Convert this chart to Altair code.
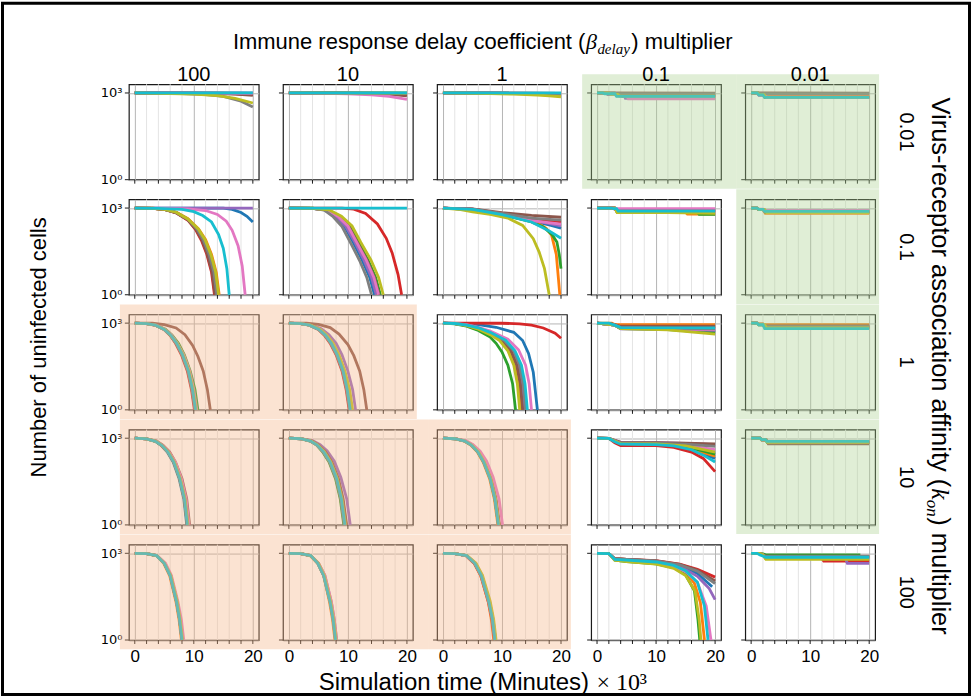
import altair as alt
import pandas as pd

# ---------------- data ----------------
BETA_LABELS = ["100", "10", "1", "0.1", "0.01"]        # columns: immune response delay multiplier
KON_LABELS = ["0.01", "0.1", "1", "10", "100"]          # rows: virus-receptor affinity multiplier
SIM_IDS = ["s0", "s1", "s2", "s3", "s4", "s5", "s6", "s7", "s8", "s9"]
SIM_COLORS = ["#1f77b4", "#ff7f0e", "#2ca02c", "#d62728", "#9467bd",
              "#8c564b", "#e377c2", "#7f7f7f", "#bcbd22", "#17becf"]
X_MAJOR = [0, 10, 20]
X_MINOR = [2, 4, 6, 8, 12, 14, 16, 18]
X_TICKS = [0, 2, 4, 6, 8, 10, 12, 14, 16, 18, 20]
Y_MAJOR = [1, 1000]
SHADE = [
    ["", "", "", "g", "g"],
    ["", "", "", "", "g"],
    ["o", "o", "", "", "g"],
    ["o", "o", "o", "", "g"],
    ["o", "o", "o", "", ""],
]
TITLE_TOP = ["Immune response delay coefficient (", "β", "delay", ") multiplier"]
TITLE_RIGHT = ["Virus-receptor association affinity (", "k", "on", ") multiplier"]
TITLE_LEFT = "Number of uninfected cells"
TITLE_BOTTOM = ["Simulation time (Minutes)", "× 10³"]

# curves: CURVES[(row, col)] -> 10 series (tab10 order), each a list of [time (x1000 min), uninfected cells]
CURVES = {
    (0, 0): [
        [[0, 1000], [20, 985]],
        [[0, 1000], [14, 985], [20, 920]],
        [[0, 1000], [20, 965]],
        [[0, 1000], [16, 960], [20, 880]],
        [[0, 1000], [20, 995]],
        [[0, 1000], [12, 965], [17, 910], [20, 830]],
        [[0, 1000], [20, 975]],
        [[0, 1000], [8, 950], [12, 880], [15, 760], [18, 520], [20, 330]],
        [[0, 1000], [6, 950], [10, 905], [14, 810], [17, 650], [20, 450]],
        [[0, 1000], [20, 1000]],
    ],
    (0, 1): [
        [[0, 1000], [20, 990]],
        [[0, 1000], [20, 975]],
        [[0, 1000], [20, 985]],
        [[0, 1000], [15, 965], [20, 880]],
        [[0, 1000], [20, 960]],
        [[0, 1000], [13, 970], [17, 900], [20, 800]],
        [[0, 1000], [6, 965], [10, 930], [14, 860], [17, 760], [20, 600]],
        [[0, 1000], [20, 970]],
        [[0, 1000], [20, 980]],
        [[0, 1000], [20, 1000]],
    ],
    (0, 2): [
        [[0, 1000], [20, 985]],
        [[0, 1000], [20, 975]],
        [[0, 1000], [20, 980]],
        [[0, 1000], [20, 960]],
        [[0, 1000], [10, 965], [20, 920]],
        [[0, 1000], [20, 950]],
        [[0, 1000], [20, 970]],
        [[0, 1000], [15, 950], [20, 900]],
        [[0, 1000], [8, 960], [12, 910], [16, 850], [18, 800], [20, 740]],
        [[0, 1000], [20, 1000]],
    ],
    (0, 3): [
        [[0, 1000], [1, 1000], [1.3, 950], [3, 950], [3.3, 850], [20, 850]],
        [[0, 1000], [1.5, 1000], [1.8, 900], [3, 900], [3.3, 800], [20, 800]],
        [[0, 1000], [1, 1000], [1.3, 950], [3, 950], [3.3, 820], [20, 820]],
        [[0, 1000], [2, 1000], [2.3, 880], [4, 880], [4.3, 760], [20, 760]],
        [[0, 1000], [1.5, 1000], [1.8, 900], [4.5, 900], [4.8, 650], [20, 650]],
        [[0, 1000], [20, 985]],
        [[0, 1000], [2, 1000], [2.3, 880], [5, 880], [5.3, 620], [20, 620]],
        [[0, 1000], [3, 1000], [3.3, 950], [20, 950]],
        [[0, 1000], [2, 1000], [2.3, 900], [3.5, 900], [3.8, 780], [20, 780]],
        [[0, 1000], [1, 1000], [1.3, 940], [3, 940], [3.3, 760], [20, 760]],
    ],
    (0, 4): [
        [[0, 1000], [1, 1000], [1.3, 850], [2, 850], [2.3, 720], [20, 720]],
        [[0, 1000], [1, 1000], [1.3, 880], [2.2, 880], [2.5, 740], [20, 740]],
        [[0, 1000], [1.2, 1000], [1.5, 860], [2, 860], [2.3, 700], [20, 700]],
        [[0, 1000], [1, 1000], [1.3, 870], [2.4, 870], [2.7, 730], [20, 730]],
        [[0, 1000], [1, 1000], [1.3, 850], [2.5, 850], [2.8, 690], [20, 690]],
        [[0, 1000], [20, 995]],
        [[0, 1000], [1, 1000], [1.3, 860], [2.3, 860], [2.6, 710], [20, 710]],
        [[0, 1000], [1, 1000], [1.3, 950], [20, 950]],
        [[0, 1000], [1.1, 1000], [1.4, 870], [2.2, 870], [2.5, 720], [20, 720]],
        [[0, 1000], [1, 1000], [1.3, 860], [2, 860], [2.3, 700], [20, 700]],
    ],
    (1, 0): [
        [[0, 1000], [15, 1000], [16.5, 900], [18, 700], [19, 520], [20, 330]],
        [[0, 1000], [3, 985], [5, 910], [7, 720], [9, 430], [10.8, 190], [12, 80], [13, 25], [13.8, 6], [14.3, 1]],
        [[0, 1000], [3, 980], [5, 900], [7, 700], [9, 400], [10.5, 180], [11.5, 80], [12.5, 25], [13.3, 6], [13.8, 1]],
        [[0, 1000], [3, 975], [5, 890], [7, 680], [9, 380], [10.3, 180], [11.3, 75], [12.2, 25], [13, 6], [13.5, 1]],
        [[0, 1000], [20, 1000]],
        [[0, 1000], [3, 980], [5, 895], [7, 690], [9, 390], [10.4, 180], [11.4, 78], [12.3, 25], [13.1, 6], [13.6, 1]],
        [[0, 1000], [5, 980], [9, 930], [12, 820], [14, 600], [15.5, 350], [16.5, 170], [17.5, 50], [18.2, 10], [18.7, 1]],
        [[0, 1000], [3, 980], [5, 900], [7, 705], [9, 410], [10.6, 180], [11.6, 80], [12.6, 25], [13.4, 6], [13.9, 1]],
        [[0, 1000], [3, 985], [5, 905], [7, 715], [9, 420], [10.8, 185], [11.9, 80], [12.9, 25], [13.7, 6], [14.2, 1]],
        [[0, 1000], [4, 980], [8, 900], [10, 750], [11.5, 550], [13, 330], [14.2, 120], [15, 40], [15.6, 8], [16, 1]],
    ],
    (1, 1): [
        [[0, 1000], [4, 975], [6, 870], [7.8, 520], [9.4, 240], [10.9, 65], [12.4, 16], [13.7, 4], [14.5, 1]],
        [[0, 1000], [4, 980], [6.3, 870], [8.1, 520], [9.8, 240], [11.3, 65], [12.9, 16], [14.2, 4], [15, 1]],
        [[0, 1000], [4, 985], [6.6, 870], [8.6, 520], [10.3, 240], [11.8, 65], [13.4, 16], [14.7, 4], [15.5, 1]],
        [[0, 1000], [9, 1000], [11, 920], [13, 650], [15, 280], [16.5, 90], [17.5, 28], [18.5, 5], [19.1, 1]],
        [[0, 1000], [4, 978], [6.2, 870], [8, 520], [9.6, 240], [11.2, 65], [12.7, 16], [14, 4], [14.8, 1]],
        [[0, 1000], [4, 982], [6.5, 870], [8.4, 520], [10.1, 240], [11.6, 65], [13.2, 16], [14.5, 4], [15.3, 1]],
        [[0, 1000], [4, 980], [6.4, 870], [8.3, 520], [10, 240], [11.5, 65], [13.1, 16], [14.4, 4], [15.2, 1]],
        [[0, 1000], [4, 970], [6, 850], [7.5, 500], [9, 230], [10.5, 60], [12, 15], [13.2, 4], [14, 1]],
        [[0, 1000], [4, 985], [6.8, 870], [8.9, 520], [10.7, 240], [12.2, 65], [13.9, 16], [15.2, 4], [16, 1]],
        [[0, 1000], [20, 1000]],
    ],
    (1, 2): [
        [[0, 1000], [5, 900], [10, 600], [15, 350], [18, 260], [20, 200]],
        [[0, 1000], [5, 900], [10, 600], [14, 400], [16, 300], [17.5, 200], [18.4, 115], [19.2, 25], [19.8, 1]],
        [[0, 1000], [5, 900], [10, 600], [15, 330], [17, 220], [18.5, 120], [19.3, 67], [19.7, 25], [20, 8]],
        [[0, 1000], [5, 920], [10, 640], [15, 420], [20, 330]],
        [[0, 1000], [5, 910], [10, 620], [15, 380], [20, 240]],
        [[0, 1000], [5, 930], [10, 700], [15, 560], [20, 480]],
        [[0, 1000], [5, 900], [10, 610], [15, 370], [20, 280]],
        [[0, 1000], [5, 920], [10, 650], [15, 450], [20, 380]],
        [[0, 1000], [3, 880], [5, 740], [8, 600], [11, 450], [13.5, 250], [15.3, 87], [16.3, 30], [17.2, 8], [18, 1]],
        [[0, 1000], [5, 900], [10, 590], [15, 330], [18, 160], [20, 90]],
    ],
    (1, 3): [
        [[0, 1000], [3, 1000], [3.3, 900], [3.8, 900], [4.1, 800], [20, 800]],
        [[0, 1000], [3, 1000], [3.4, 720], [15, 720], [15.3, 620], [20, 620]],
        [[0, 1000], [3, 1000], [3.4, 720], [17, 720], [17.3, 600], [20, 600]],
        [[0, 1000], [3, 1000], [3.4, 760], [20, 750]],
        [[0, 1000], [2.6, 1000], [3, 900], [20, 900]],
        [[0, 1000], [3, 1000], [3.4, 850], [20, 850]],
        [[0, 1000], [3, 1000], [3.4, 950], [20, 950]],
        [[0, 1000], [3, 1000], [3.4, 800], [20, 790]],
        [[0, 1000], [3, 1000], [3.4, 700], [12, 690], [20, 650]],
        [[0, 1000], [2.5, 1000], [2.8, 950], [3.3, 950], [3.6, 780], [20, 780]],
    ],
    (1, 4): [
        [[0, 1000], [1, 1000], [1.3, 900], [2, 900], [2.3, 780], [20, 780]],
        [[0, 1000], [1, 1000], [1.3, 880], [2, 880], [2.4, 650], [20, 650]],
        [[0, 1000], [1, 1000], [1.3, 880], [2.2, 880], [2.5, 700], [20, 700]],
        [[0, 1000], [1, 1000], [1.3, 880], [2.2, 880], [2.5, 720], [20, 720]],
        [[0, 1000], [1, 1000], [1.3, 900], [2, 900], [2.3, 800], [20, 800]],
        [[0, 1000], [1, 1000], [1.3, 900], [2.1, 900], [2.4, 760], [20, 760]],
        [[0, 1000], [1, 1000], [1.3, 920], [2, 920], [2.3, 820], [20, 820]],
        [[0, 1000], [1, 1000], [1.3, 890], [2, 890], [2.3, 740], [20, 740]],
        [[0, 1000], [1, 1000], [1.3, 880], [2.3, 880], [2.6, 700], [20, 700]],
        [[0, 1000], [1, 1000], [1.3, 900], [2, 900], [2.3, 770], [20, 770]],
    ],
    (2, 0): [
        [[0, 1000], [2, 960], [3.5, 850], [5, 600], [6, 380], [7, 200], [8, 80], [9, 22], [9.7, 5], [10.2, 1]],
        [[0, 1000], [2, 960], [3.5, 850], [5, 610], [6.1, 380], [7.1, 200], [8.1, 80], [9.1, 22], [9.8, 5], [10.3, 1]],
        [[0, 1000], [2, 965], [3.6, 860], [5.2, 620], [6.3, 390], [7.4, 200], [8.4, 80], [9.4, 22], [10.2, 5], [10.7, 1]],
        [[0, 1000], [2, 958], [3.5, 845], [5, 595], [6, 375], [6.9, 200], [7.9, 80], [8.9, 22], [9.6, 5], [10.1, 1]],
        [[0, 1000], [2, 962], [3.5, 852], [5.1, 610], [6.2, 385], [7.2, 200], [8.2, 80], [9.2, 22], [9.9, 5], [10.4, 1]],
        [[0, 1000], [3, 990], [5, 890], [7, 680], [8.5, 400], [9.8, 170], [10.7, 70], [11.6, 22], [12.3, 5], [12.8, 1]],
        [[0, 1000], [2, 963], [3.6, 855], [5.1, 612], [6.2, 385], [7.2, 200], [8.3, 80], [9.3, 22], [10, 5], [10.5, 1]],
        [[0, 1000], [2, 958], [3.5, 848], [5, 602], [6, 382], [7, 200], [8, 80], [9, 22], [9.7, 5], [10.2, 1]],
        [[0, 1000], [2, 961], [3.5, 850], [5.1, 605], [6.1, 380], [7.2, 200], [8.2, 80], [9.2, 22], [9.9, 5], [10.4, 1]],
        [[0, 1000], [2, 960], [3.5, 848], [5, 600], [6.1, 380], [7.1, 200], [8.1, 80], [9.1, 22], [9.8, 5], [10.3, 1]],
    ],
    (2, 1): [
        [[0, 1000], [2, 960], [3.5, 850], [5, 610], [6.1, 380], [7.1, 200], [8.1, 80], [9.1, 22], [9.8, 5], [10.3, 1]],
        [[0, 1000], [2, 963], [3.6, 855], [5.1, 612], [6.2, 385], [7.2, 200], [8.3, 80], [9.3, 22], [10, 5], [10.5, 1]],
        [[0, 1000], [2, 961], [3.5, 850], [5.1, 605], [6.1, 380], [7.2, 200], [8.2, 80], [9.2, 22], [9.9, 5], [10.4, 1]],
        [[0, 1000], [2, 958], [3.5, 848], [5, 602], [6, 382], [7, 200], [8, 80], [9, 22], [9.7, 5], [10.2, 1]],
        [[0, 1000], [2, 970], [3.8, 870], [5.5, 640], [6.8, 400], [8, 200], [9, 80], [10, 22], [10.8, 5], [11.3, 1]],
        [[0, 1000], [3, 990], [5, 900], [7, 700], [8.5, 420], [10, 180], [11, 75], [12, 22], [12.7, 5], [13.2, 1]],
        [[0, 1000], [2, 964], [3.6, 858], [5.2, 615], [6.3, 388], [7.3, 200], [8.4, 80], [9.4, 22], [10.1, 5], [10.6, 1]],
        [[0, 1000], [2, 959], [3.5, 849], [5, 606], [6.1, 381], [7.1, 200], [8.1, 80], [9.1, 22], [9.8, 5], [10.3, 1]],
        [[0, 1000], [2, 966], [3.7, 860], [5.3, 620], [6.4, 390], [7.5, 200], [8.5, 80], [9.5, 22], [10.3, 5], [10.8, 1]],
        [[0, 1000], [2, 960], [3.5, 850], [5.1, 606], [6.2, 382], [7.2, 200], [8.2, 80], [9.2, 22], [9.9, 5], [10.4, 1]],
    ],
    (2, 2): [
        [[0, 1000], [3, 960], [6, 880], [9, 720], [12, 480], [13.5, 250], [14.5, 90], [15.3, 20], [16, 1]],
        [[0, 1000], [2, 962], [4, 830], [6, 640], [8, 420], [9.8, 250], [11.3, 110], [12.3, 35], [12.9, 8], [13.3, 1]],
        [[0, 1000], [2, 950], [4, 780], [6, 560], [8, 330], [9, 200], [10, 100], [11, 35], [11.8, 8], [12.3, 1]],
        [[0, 1000], [10, 990], [13, 950], [15, 850], [17, 680], [19, 450], [20, 300]],
        [[0, 1000], [2, 968], [4, 850], [6, 670], [8, 450], [10.2, 250], [11.8, 110], [12.8, 35], [13.4, 8], [13.8, 1]],
        [[0, 1000], [2, 965], [4, 840], [6, 650], [8, 430], [10, 250], [11.5, 110], [12.5, 35], [13.1, 8], [13.5, 1]],
        [[0, 1000], [2, 975], [4, 880], [6, 720], [8, 530], [11, 280], [12.8, 120], [14, 35], [14.6, 8], [15, 1]],
        [[0, 1000], [2, 970], [4, 860], [6, 680], [8, 460], [10.4, 250], [12, 110], [13, 35], [13.6, 8], [14, 1]],
        [[0, 1000], [2, 960], [4, 820], [6, 620], [8, 400], [9.6, 250], [11, 110], [12, 35], [12.6, 8], [13, 1]],
        [[0, 1000], [2, 970], [4, 860], [6, 690], [8, 480], [10.6, 260], [12.2, 110], [13.3, 35], [13.9, 8], [14.3, 1]],
    ],
    (2, 3): [
        [[0, 1000], [3, 850], [4, 660], [12, 640], [20, 520]],
        [[0, 1000], [2.5, 1000], [3, 900], [20, 880]],
        [[0, 1000], [3, 850], [4, 650], [12, 600], [20, 470]],
        [[0, 1000], [3, 880], [4, 760], [20, 740]],
        [[0, 1000], [3, 850], [4, 640], [12, 620], [20, 560]],
        [[0, 1000], [2.5, 950], [3.5, 800], [20, 780]],
        [[0, 1000], [3, 850], [4, 680], [20, 600]],
        [[0, 1000], [3, 850], [4, 700], [20, 640]],
        [[0, 1000], [3, 850], [4, 640], [12, 580], [20, 420]],
        [[0, 1000], [2, 1000], [3, 850], [4, 700], [20, 690]],
    ],
    (2, 4): [
        [[0, 1000], [1, 1000], [1.3, 900], [2, 900], [2.3, 720], [20, 720]],
        [[0, 1000], [1, 1000], [1.3, 950], [2, 950], [2.3, 880], [20, 880]],
        [[0, 1000], [1, 1000], [1.3, 880], [2.2, 880], [2.5, 700], [20, 700]],
        [[0, 1000], [1, 1000], [1.3, 900], [2, 900], [2.3, 750], [20, 750]],
        [[0, 1000], [1, 1000], [1.3, 880], [2.1, 880], [2.4, 690], [20, 690]],
        [[0, 1000], [1, 1000], [1.3, 920], [2, 920], [2.3, 800], [20, 800]],
        [[0, 1000], [1, 1000], [1.3, 900], [2.2, 900], [2.5, 710], [20, 710]],
        [[0, 1000], [1, 1000], [1.3, 900], [2, 900], [2.3, 760], [20, 760]],
        [[0, 1000], [1, 1000], [1.3, 880], [2.3, 880], [2.6, 680], [20, 680]],
        [[0, 1000], [1, 1000], [1.3, 880], [2, 880], [2.3, 650], [20, 650]],
    ],
    (3, 0): [
        [[0, 1000], [2, 950], [3.5, 780], [4.5, 560], [5.5, 330], [6.5, 150], [7.5, 40], [8.3, 8], [8.8, 1]],
        [[0, 1000], [2, 952], [3.6, 780], [4.6, 560], [5.7, 330], [6.7, 150], [7.7, 40], [8.5, 8], [9, 1]],
        [[0, 1000], [2, 951], [3.5, 782], [4.6, 560], [5.6, 330], [6.6, 150], [7.6, 40], [8.4, 8], [8.9, 1]],
        [[0, 1000], [2, 950], [3.6, 781], [4.5, 562], [5.6, 332], [6.6, 150], [7.6, 40], [8.4, 8], [8.9, 1]],
        [[0, 1000], [2, 953], [3.6, 785], [4.7, 562], [5.8, 332], [6.8, 150], [7.8, 40], [8.6, 8], [9.1, 1]],
        [[0, 1000], [2, 955], [3.7, 790], [4.8, 565], [5.9, 335], [6.9, 150], [8, 40], [8.8, 8], [9.3, 1]],
        [[0, 1000], [2, 954], [3.7, 788], [4.7, 565], [5.8, 335], [6.9, 150], [7.9, 40], [8.7, 8], [9.2, 1]],
        [[0, 1000], [2, 952], [3.6, 784], [4.6, 561], [5.7, 331], [6.7, 150], [7.7, 40], [8.5, 8], [9, 1]],
        [[0, 1000], [2, 953], [3.6, 783], [4.6, 563], [5.7, 333], [6.7, 150], [7.7, 40], [8.5, 8], [9, 1]],
        [[0, 1000], [2, 951], [3.5, 781], [4.6, 561], [5.6, 331], [6.6, 150], [7.6, 40], [8.4, 8], [8.9, 1]],
    ],
    (3, 1): [
        [[0, 1000], [2, 959], [3.7, 798], [4.8, 578], [5.8, 340], [6.9, 150], [8, 40], [8.8, 8], [9.4, 1]],
        [[0, 1000], [2, 960], [3.7, 800], [4.8, 580], [5.9, 340], [7, 150], [8.1, 40], [8.9, 8], [9.5, 1]],
        [[0, 1000], [2, 958], [3.6, 796], [4.7, 576], [5.7, 338], [6.8, 150], [7.9, 40], [8.7, 8], [9.3, 1]],
        [[0, 1000], [2, 961], [3.8, 802], [4.9, 582], [6, 342], [7.1, 150], [8.2, 40], [9, 8], [9.6, 1]],
        [[0, 1000], [2, 975], [4, 830], [5.3, 600], [6.5, 360], [7.7, 160], [8.8, 45], [9.8, 8], [10.4, 1]],
        [[0, 1000], [2, 963], [3.9, 806], [5, 586], [6.2, 345], [7.3, 150], [8.4, 40], [9.2, 8], [9.8, 1]],
        [[0, 1000], [2, 960], [3.7, 801], [4.8, 581], [5.9, 341], [7, 151], [8.1, 41], [8.9, 8], [9.5, 1]],
        [[0, 1000], [2, 959], [3.7, 799], [4.8, 579], [5.8, 339], [6.9, 149], [8, 40], [8.8, 8], [9.4, 1]],
        [[0, 1000], [2, 961], [3.8, 803], [4.9, 583], [6, 343], [7.1, 151], [8.2, 41], [9, 8], [9.6, 1]],
        [[0, 1000], [2, 960], [3.7, 800], [4.8, 580], [5.9, 340], [7, 150], [8.1, 40], [8.9, 8], [9.5, 1]],
    ],
    (3, 2): [
        [[0, 1000], [2, 960], [3.7, 800], [4.8, 580], [5.9, 340], [6.9, 150], [8, 40], [8.8, 8], [9.4, 1]],
        [[0, 1000], [2, 958], [3.6, 797], [4.7, 577], [5.8, 338], [6.8, 150], [7.9, 40], [8.7, 8], [9.3, 1]],
        [[0, 1000], [2, 960], [3.7, 801], [4.8, 581], [5.9, 341], [6.9, 151], [8, 41], [8.8, 8], [9.4, 1]],
        [[0, 1000], [2, 961], [3.7, 803], [4.9, 583], [6, 343], [7, 151], [8.1, 41], [8.9, 8], [9.5, 1]],
        [[0, 1000], [2, 962], [3.8, 804], [4.9, 584], [6, 344], [7.1, 152], [8.1, 41], [8.9, 8], [9.5, 1]],
        [[0, 1000], [2, 963], [3.8, 806], [5, 586], [6.1, 346], [7.2, 152], [8.2, 42], [9, 8], [9.6, 1]],
        [[0, 1000], [2, 970], [3.9, 820], [5.1, 600], [6.3, 360], [7.4, 160], [8.5, 45], [9.5, 8], [10.1, 1]],
        [[0, 1000], [2, 959], [3.7, 799], [4.8, 579], [5.9, 339], [6.9, 149], [8, 40], [8.8, 8], [9.4, 1]],
        [[0, 1000], [2, 961], [3.7, 802], [4.9, 582], [6, 342], [7, 150], [8.1, 40], [8.9, 8], [9.5, 1]],
        [[0, 1000], [2, 960], [3.7, 800], [4.8, 580], [5.9, 340], [6.9, 150], [8, 40], [8.8, 8], [9.4, 1]],
    ],
    (3, 3): [
        [[0, 1000], [2, 980], [3, 800], [4, 600], [10, 600], [15, 470], [20, 200]],
        [[0, 1000], [2, 980], [3, 800], [4, 620], [10, 610], [15, 500], [20, 240]],
        [[0, 1000], [2, 980], [3, 800], [4, 620], [10, 610], [15, 520], [20, 280]],
        [[0, 1000], [2, 980], [3, 700], [4, 560], [10, 550], [13, 480], [16, 330], [18, 200], [20, 70]],
        [[0, 1000], [2, 980], [3, 850], [4, 720], [10, 700], [15, 660], [20, 600]],
        [[0, 1000], [2, 980], [3, 850], [4, 720], [10, 700], [15, 680], [20, 640]],
        [[0, 1000], [2, 980], [3, 820], [4, 650], [10, 640], [15, 560], [20, 400]],
        [[0, 1000], [2, 980], [3, 820], [4, 680], [10, 670], [15, 620], [20, 520]],
        [[0, 1000], [2, 980], [3, 800], [4, 650], [10, 630], [15, 540], [20, 330]],
        [[0, 1000], [2, 980], [3, 750], [4, 620], [10, 600], [13, 540], [16, 400], [18, 260], [20, 150]],
    ],
    (3, 4): [
        [[0, 1000], [1.5, 1000], [1.8, 880], [2.5, 880], [2.8, 740], [20, 740]],
        [[0, 1000], [1.5, 1000], [1.8, 900], [2.5, 900], [2.8, 760], [20, 760]],
        [[0, 1000], [1.5, 1000], [1.8, 880], [2.4, 880], [2.7, 720], [20, 720]],
        [[0, 1000], [1.5, 1000], [1.8, 880], [2.6, 880], [2.9, 700], [20, 700]],
        [[0, 1000], [1.5, 1000], [1.8, 890], [2.5, 890], [2.8, 730], [20, 730]],
        [[0, 1000], [1.5, 1000], [1.8, 860], [2.6, 860], [2.9, 640], [20, 640]],
        [[0, 1000], [1.5, 1000], [1.8, 880], [2.5, 880], [2.8, 750], [20, 750]],
        [[0, 1000], [1.5, 1000], [1.8, 900], [2.5, 900], [2.8, 770], [20, 770]],
        [[0, 1000], [1.5, 1000], [1.8, 880], [2.5, 880], [2.8, 720], [20, 720]],
        [[0, 1000], [1.5, 1000], [1.8, 900], [2.4, 900], [2.7, 780], [20, 780]],
    ],
    (4, 0): [
        [[0, 1000], [2, 980], [3.7, 830], [5, 450], [6, 170], [7.1, 20], [7.6, 5], [8, 1]],
        [[0, 1000], [2, 979], [3.7, 828], [4.9, 450], [5.9, 170], [7, 20], [7.5, 5], [7.9, 1]],
        [[0, 1000], [2, 980], [3.7, 831], [5, 452], [6, 171], [7.1, 20], [7.6, 5], [8, 1]],
        [[0, 1000], [2, 981], [3.7, 832], [5, 455], [6.1, 172], [7.2, 21], [7.7, 5], [8.1, 1]],
        [[0, 1000], [2, 980], [3.7, 829], [5, 451], [6, 170], [7.1, 20], [7.6, 5], [8, 1]],
        [[0, 1000], [2, 981], [3.7, 833], [5, 456], [6.1, 173], [7.2, 21], [7.7, 5], [8.1, 1]],
        [[0, 1000], [2, 982], [3.8, 840], [5.2, 460], [6.2, 175], [7.3, 22], [7.9, 5], [8.3, 1]],
        [[0, 1000], [2, 980], [3.7, 830], [5, 451], [6, 171], [7.1, 20], [7.6, 5], [8, 1]],
        [[0, 1000], [2, 981], [3.7, 832], [5, 454], [6.1, 172], [7.2, 21], [7.7, 5], [8.1, 1]],
        [[0, 1000], [2, 980], [3.7, 830], [5, 450], [6, 170], [7.1, 20], [7.6, 5], [8, 1]],
    ],
    (4, 1): [
        [[0, 1000], [2, 980], [3.7, 828], [4.9, 448], [5.9, 168], [7, 20], [7.5, 5], [7.9, 1]],
        [[0, 1000], [2, 979], [3.6, 826], [4.9, 446], [5.9, 167], [6.9, 20], [7.4, 5], [7.8, 1]],
        [[0, 1000], [2, 980], [3.7, 829], [5, 450], [6, 170], [7.1, 20], [7.6, 5], [8, 1]],
        [[0, 1000], [2, 980], [3.7, 830], [5, 451], [6, 171], [7.1, 20], [7.6, 5], [8, 1]],
        [[0, 1000], [2, 981], [3.7, 833], [5, 455], [6.1, 173], [7.2, 21], [7.7, 5], [8.1, 1]],
        [[0, 1000], [2, 980], [3.7, 830], [5, 450], [6, 170], [7.1, 20], [7.6, 5], [8, 1]],
        [[0, 1000], [2, 981], [3.7, 832], [5, 454], [6.1, 172], [7.2, 21], [7.7, 5], [8.1, 1]],
        [[0, 1000], [2, 979], [3.7, 828], [4.9, 449], [5.9, 169], [7, 20], [7.5, 5], [7.9, 1]],
        [[0, 1000], [2, 980], [3.7, 829], [5, 450], [6, 170], [7.1, 20], [7.6, 5], [8, 1]],
        [[0, 1000], [2, 980], [3.7, 830], [4.9, 449], [5.9, 169], [7, 20], [7.5, 5], [7.9, 1]],
    ],
    (4, 2): [
        [[0, 1000], [2, 980], [4, 830], [5.4, 450], [6.5, 170], [7.8, 20], [8.4, 5], [8.8, 1]],
        [[0, 1000], [2, 979], [3.9, 826], [5.3, 446], [6.4, 167], [7.7, 20], [8.2, 5], [8.6, 1]],
        [[0, 1000], [2, 980], [4, 829], [5.4, 449], [6.5, 169], [7.8, 20], [8.4, 5], [8.8, 1]],
        [[0, 1000], [2, 979], [3.9, 827], [5.3, 447], [6.4, 168], [7.7, 20], [8.3, 5], [8.7, 1]],
        [[0, 1000], [2, 980], [4, 831], [5.4, 451], [6.5, 171], [7.8, 20], [8.4, 5], [8.8, 1]],
        [[0, 1000], [2, 981], [4, 833], [5.5, 454], [6.6, 172], [7.9, 21], [8.5, 5], [8.9, 1]],
        [[0, 1000], [2, 981], [4, 834], [5.5, 455], [6.6, 173], [7.9, 21], [8.5, 5], [8.9, 1]],
        [[0, 1000], [2, 980], [4, 830], [5.4, 450], [6.5, 170], [7.8, 20], [8.4, 5], [8.8, 1]],
        [[0, 1000], [2, 982], [4.1, 840], [5.6, 460], [6.7, 175], [8, 22], [8.6, 5], [9, 1]],
        [[0, 1000], [2, 980], [4, 830], [5.4, 450], [6.5, 170], [7.8, 20], [8.4, 5], [8.8, 1]],
    ],
    (4, 3): [
        [[0, 1000], [2, 980], [3, 640], [5, 610], [10, 530], [14, 380], [17, 200], [19.5, 70]],
        [[0, 1000], [2, 980], [3, 650], [5, 620], [10, 540], [13, 400], [15, 230], [16.5, 90], [17.5, 20], [18.2, 1]],
        [[0, 1000], [2, 980], [3, 580], [5, 520], [10, 430], [13, 320], [15, 180], [16.5, 50], [17.1, 5], [17.4, 1]],
        [[0, 1000], [2, 980], [3, 650], [5, 620], [10, 560], [14, 420], [17, 280], [20, 150]],
        [[0, 1000], [2, 980], [3, 620], [5, 600], [10, 520], [14, 360], [17, 160], [19, 60], [20, 25]],
        [[0, 1000], [2, 980], [3, 650], [5, 620], [10, 550], [14, 410], [17, 260], [20, 110]],
        [[0, 1000], [2, 980], [3, 600], [5, 560], [10, 480], [13, 360], [15, 230], [17, 100], [18.5, 15], [19.3, 1]],
        [[0, 1000], [2, 980], [3, 650], [5, 620], [10, 550], [14, 400], [17, 240], [20, 90]],
        [[0, 1000], [2, 980], [3, 580], [5, 520], [10, 420], [13, 300], [15, 170], [16.6, 50], [17.3, 5], [17.6, 1]],
        [[0, 1000], [2, 980], [3, 620], [5, 580], [10, 500], [13, 380], [15, 250], [17, 100], [18.2, 15], [18.8, 1]],
    ],
    (4, 4): [
        [[0, 1000], [1.5, 1000], [2, 880], [2.5, 700], [20, 700]],
        [[0, 1000], [1.5, 1000], [2, 880], [2.5, 760], [20, 760]],
        [[0, 1000], [1.5, 1000], [2, 950], [2.5, 880], [18.5, 880]],
        [[0, 1000], [1.5, 1000], [2, 880], [2.5, 650], [12, 650], [12.3, 540], [20, 540]],
        [[0, 1000], [1.5, 1000], [2, 880], [2.5, 650], [16, 650], [16.3, 450], [20, 450]],
        [[0, 1000], [1.5, 1000], [2, 880], [2.5, 800], [20, 800]],
        [[0, 1000], [1.5, 1000], [2, 880], [2.5, 680], [20, 680]],
        [[0, 1000], [1.5, 1000], [2, 880], [2.5, 780], [20, 780]],
        [[0, 1000], [1.5, 1000], [2, 880], [2.5, 620], [20, 620]],
        [[0, 1000], [1, 1000], [1.5, 880], [2.5, 730], [20, 730]],
    ],
}

# ---------------- tables ----------------
rows = []
for (r, c), curves in CURVES.items():
    for k, pts in enumerate(curves):
        for i, (t, v) in enumerate(pts):
            rows.append({"r": r, "c": c, "sim": SIM_IDS[k], "i": i, "t": t, "v": v})
LINES = pd.DataFrame(rows)
MINOR_DF = pd.DataFrame({"t": X_MINOR})
XT_DF = pd.DataFrame({"t": X_TICKS})
YT_DF = pd.DataFrame({"v": Y_MAJOR})
ONE = pd.DataFrame({"k": [0]})

# ---------------- style / layout ----------------
W, H = 130, 95.5
GAP_X, GAP_Y = 24.25, 19.2
OX, OY = 128, 82.6          # top-left panel position inside the figure
SANS = "Liberation Sans, Arial, sans-serif"
SERIF = "Liberation Serif, Times New Roman, serif"
TICKF = "DejaVu Sans"
FRAME = "#1a1a1a"
GRID_MAJOR = "#b5b5b5"
GRID_MINOR = "#e4e4e4"
SHADE_COLORS = {"g": "#a9d18e", "o": "#f4b183"}
SHADE_OPACITY = 0.36

XS = alt.Scale(domain=[-1, 21], nice=False, zero=False)
YS = alt.Scale(type="log", domain=[1, 2000], nice=False)


def txt(s, x, y, size, font=SANS, angle=0, align="center", baseline="middle", style="normal"):
    return alt.Chart(ONE).mark_text(
        text=s, fontSize=size, font=font, angle=angle, align=align,
        baseline=baseline, fontStyle=style, color="#000"
    ).encode(x=alt.value(x), y=alt.value(y))


def figure_texts():
    L = []
    # top title
    ty = 47 - OY
    x1 = 585 - OX
    L.append(txt(TITLE_TOP[0], x1, ty, 22, align="right", baseline="alphabetic"))
    L.append(txt(TITLE_TOP[1], x1 + 0.5, ty, 22, font=SERIF, align="left", baseline="alphabetic", style="italic"))
    L.append(txt(TITLE_TOP[2], x1 + 12, ty + 5, 15, font=SERIF, align="left", baseline="alphabetic", style="italic"))
    L.append(txt(TITLE_TOP[3], x1 + 46, ty, 22, align="left", baseline="alphabetic"))
    # right title (rotated clockwise)
    rx = 932 - OX
    y1 = 486 - OY
    L.append(txt(TITLE_RIGHT[0], rx, y1, 25.5, angle=90, align="right", baseline="alphabetic"))
    L.append(txt(TITLE_RIGHT[1], rx, y1 + 1, 25.5, font=SERIF, angle=90, align="left", baseline="alphabetic", style="italic"))
    L.append(txt(TITLE_RIGHT[2], rx - 5, y1 + 12.5, 17, font=SERIF, angle=90, align="left", baseline="alphabetic", style="italic"))
    L.append(txt(TITLE_RIGHT[3], rx, y1 + 30, 25.5, angle=90, align="left", baseline="alphabetic"))
    # left title
    L.append(txt(TITLE_LEFT, 38 - OX, 346 - OY, 22, angle=270))
    # bottom title
    by = 689 - OY
    L.append(txt(TITLE_BOTTOM[0], 318 - OX, by, 24, align="left", baseline="alphabetic"))
    L.append(txt(TITLE_BOTTOM[1], 596 - OX, by, 24, font=SERIF, align="left", baseline="alphabetic"))
    # figure border
    L.append(alt.Chart(ONE).mark_rect(filled=False, color="#000", strokeWidth=3).encode(
        x=alt.value(1.5 - OX), x2=alt.value(969.5 - OX),
        y=alt.value(1.5 - OY), y2=alt.value(693.5 - OY)))
    return L


def panel(r, c):
    xax = alt.Axis(values=X_MAJOR, grid=True, gridColor=GRID_MAJOR, gridWidth=1, ticks=False, tickSize=0,
                   domain=False, labels=(r == 4), title=None, labelFont=SANS, labelFontSize=17,
                   labelPadding=9, labelColor="#000", labelFlush=False)
    yax = alt.Axis(values=Y_MAJOR, grid=True, gridColor=GRID_MAJOR, gridWidth=1, ticks=False, tickSize=0,
                   domain=False, labels=(c == 0), title=None, labelFont=TICKF, labelFontSize=13,
                   labelPadding=7, labelColor="#000",
                   labelExpr="datum.value >= 1000 ? '10³' : '10⁰'")
    X = alt.X("t:Q", scale=XS, axis=xax)
    Y = alt.Y("v:Q", scale=YS, axis=yax)

    layers = [
        alt.Chart(MINOR_DF).mark_rule(color=GRID_MINOR, strokeWidth=1).encode(
            x=X, y=alt.value(0), y2=alt.value(H)),
        alt.Chart(XT_DF).mark_rule(color=FRAME, strokeWidth=1).encode(
            x=X, y=alt.value(H), y2=alt.value(H + 4)),
        alt.Chart(YT_DF).mark_rule(color=FRAME, strokeWidth=1).encode(
            y=Y, x=alt.value(-4), x2=alt.value(0)),
        alt.Chart(LINES).transform_filter(f"datum.r == {r} && datum.c == {c}").mark_line(
            strokeWidth=2.8).encode(
            x=X, y=Y,
            color=alt.Color("sim:N", scale=alt.Scale(domain=SIM_IDS, range=SIM_COLORS), legend=None),
            order=alt.Order("i:Q")),
    ]
    s = SHADE[r][c]
    if s:
        cont = c < 4 and SHADE[r][c + 1] == s
        x2 = W + (GAP_X - 9 if cont else 4)
        layers.append(alt.Chart(ONE).mark_rect(color=SHADE_COLORS[s], opacity=SHADE_OPACITY).encode(
            x=alt.value(-9), x2=alt.value(x2), y=alt.value(-10), y2=alt.value(H + 9.2)))
    if r == 0:
        layers.append(txt(BETA_LABELS[c], W / 2, -3.5, 20, baseline="alphabetic"))
    if c == 4:
        layers.append(txt(KON_LABELS[r], W + 31, H / 2, 20, angle=90))
    if r == 0 and c == 0:
        layers.extend(figure_texts())
    return alt.layer(*layers).properties(width=W, height=H)


panels = [panel(r, c) for r in range(5) for c in range(5)]

chart = alt.concat(
    *panels, columns=5, spacing={"row": GAP_Y, "column": GAP_X}, bounds="flush"
).configure_view(
    stroke=FRAME, strokeWidth=1.2
).properties(
    padding=0, background="white"
)

chart.save("out.html", embed_options={"renderer": "svg", "actions": False})
